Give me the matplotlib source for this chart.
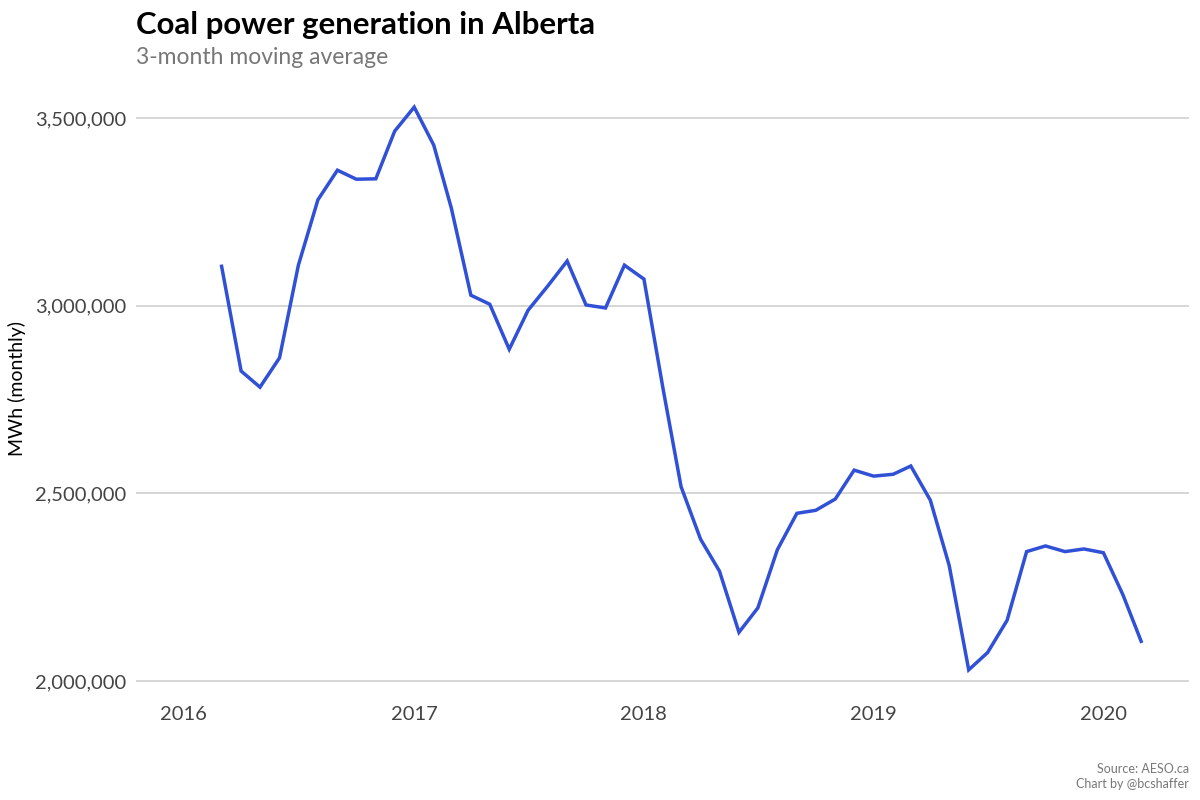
import numpy as np
import pandas as pd
import matplotlib.pyplot as plt
import matplotlib.ticker as mticker
import matplotlib.dates as mdates

# monthly values, 3-month moving average (MWh)
months = pd.date_range("2016-03-01", "2020-03-01", freq="MS")
mwh = [3105000, 2826000, 2783000, 2861000, 3108000, 3282000, 3361000, 3337000,
       3338000, 3465000, 3529000, 3428000, 3260000, 3028000, 3004000, 2884000,
       2988000, 3052000, 3119000, 3002000, 2994000, 3108000, 3071000, 2773000,
       2518000, 2378000, 2293000, 2130000, 2195000, 2350000, 2447000, 2455000,
       2485000, 2562000, 2546000, 2551000, 2573000, 2482000, 2308000, 2030000,
       2076000, 2162000, 2345000, 2360000, 2345000, 2352000, 2342000, 2230000,
       2106000]

y_ticks = [2000000, 2500000, 3000000, 3500000]
x_ticks = ["2016", "2017", "2018", "2019", "2020"]

plt.rcParams['font.family'] = ['Lato', 'DejaVu Sans']

fig = plt.figure(figsize=(12, 8), dpi=100)
ax = fig.add_axes([136/1200, 1 - 698/800, (1189-136)/1200, (698-78.6)/800])

ax.plot(months, mwh, color='#3050d6', lw=2.5, solid_joinstyle='miter')

ax.set_xlim(pd.Timestamp("2015-10-17"), pd.Timestamp("2020-05-16"))
ax.set_ylim(1955000, 3605000)

ax.set_yticks(y_ticks)
ax.yaxis.set_major_formatter(mticker.FuncFormatter(lambda v, p: f"{int(v):,}"))
ax.set_xticks([pd.Timestamp(f"{y}-01-01") for y in x_ticks])
ax.set_xticklabels(x_ticks)

ax.grid(axis='y', color='#cccccc', lw=1.1)
ax.grid(axis='x', visible=False)
ax.set_axisbelow(True)
for s in ax.spines.values():
    s.set_visible(False)
ax.tick_params(length=0, labelsize=14.5, colors='#444444')
ax.tick_params(axis='y', pad=7)
ax.tick_params(axis='x', pad=6)

fig.text(17/1200, 1 - 388/800, "MWh (monthly)", rotation=90, ha='center', va='center',
         fontsize=14, color='black')

fig.text(136/1200, 1 - 34/800, "Coal power generation in Alberta", fontsize=22.4,
         fontweight='bold', color='black', va='baseline')
fig.text(136/1200, 1 - 64/800, "3-month moving average", fontsize=16.5,
         color='#777777', va='baseline')

fig.text(1189/1200, 1 - 773/800, "Source: AESO.ca", fontsize=9, color='#777777',
         ha='right', va='baseline')
fig.text(1189/1200, 1 - 788/800, "Chart by @bcshaffer", fontsize=9, color='#777777',
         ha='right', va='baseline')

plt.savefig('out.png', dpi=100)
